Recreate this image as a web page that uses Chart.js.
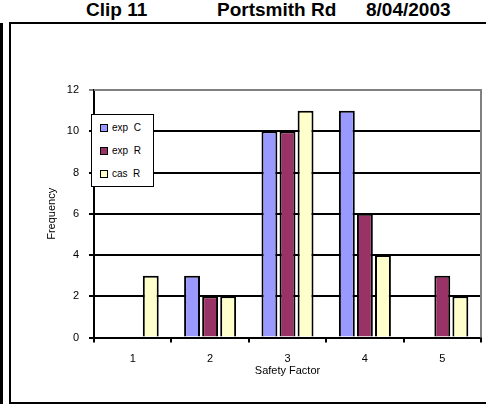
<!DOCTYPE html>
<html>
<head>
<meta charset="utf-8">
<script src="https://cdn.jsdelivr.net/npm/chart.js@4.4.0/dist/chart.umd.min.js"></script>
<style>
  body { margin: 0; background: #fff; }
  #wrap { position: relative; width: 486px; height: 406px; overflow: hidden; }
  .ttl { position: absolute; top: -1px; font: bold 19px "Liberation Sans", Arial, sans-serif; color: #000; }
  .ln { position: absolute; background: #000; }
  #legend { position: absolute; left: 91px; top: 114px; width: 61px; height: 71px; background: #fff;
    border: 1.5px solid #000; font: 10px "Liberation Sans", Arial, sans-serif; }
  #legend div { position: absolute; left: 8px; height: 10px; line-height: 10px; white-space: pre; }
  #legend span { display: inline-block; width: 6px; height: 6px; border: 1px solid #000; margin-right: 4px; vertical-align: -1px; }
  canvas { position: absolute; left: 0; top: 0; }
</style>
</head>
<body>
<div id="wrap">
  <div class="ttl" style="left:86px">Clip 11</div>
  <div class="ttl" style="left:217px">Portsmith Rd</div>
  <div class="ttl" style="left:366px">8/04/2003</div>
  <div class="ln" style="left:0;top:23px;width:3px;height:381px"></div>
  <div class="ln" style="left:9px;top:22px;width:2px;height:382px"></div>
  <div class="ln" style="left:9px;top:22px;width:477px;height:2px"></div>
  <div class="ln" style="left:9px;top:402px;width:477px;height:2px"></div>
  <canvas id="myChart" width="486" height="406"></canvas>
  <div id="legend"></div>
</div>
<script>
let categories = ['1', '2', '3', '4', '5'];
let expC = [0, 3, 10, 11, 0];
let expR = [0, 2, 10, 6, 3];
let casR = [3, 2, 11, 4, 2];
let seriesNames = ['exp  C', 'exp  R', 'cas  R'];
let seriesColors = ['#9999FF', '#993366', '#FFFFCC'];
let yTicks = [0, 2, 4, 6, 8, 10, 12];

let font = "'Liberation Sans', Arial, sans-serif";

// plot area border (gray top and right edge)
const frame = {
  id: 'frame',
  afterDraw(chart) {
    let a = chart.chartArea;
    let c = chart.ctx;
    c.save();
    c.strokeStyle = '#808080';
    c.lineWidth = 2;
    c.beginPath();
    c.moveTo(a.left, a.top);
    c.lineTo(a.right, a.top);
    c.lineTo(a.right, a.bottom);
    c.stroke();
    c.restore();
  }
};

let ctx = document.getElementById('myChart').getContext('2d');
const myChart = new Chart(ctx, {
  type: 'bar',
  data: {
    labels: categories,
    datasets: [expC, expR, casR].map((d, i) => ({
      label: seriesNames[i],
      data: d,
      backgroundColor: seriesColors[i],
      borderColor: '#000',
      borderWidth: 2,
      categoryPercentage: 0.7,
      barPercentage: 0.88
    }))
  },
  options: {
    responsive: false,
    animation: false,
    layout: { padding: { left: 45, right: 5, top: 90, bottom: 22 } },
    plugins: { legend: { display: false }, tooltip: { enabled: false } },
    scales: {
      x: {
        grid: { drawOnChartArea: false, drawTicks: true, tickLength: 5, color: '#000', lineWidth: 2 },
        border: { color: '#000', width: 2 },
        ticks: { color: '#000', font: { family: font, size: 11 }, padding: 10 },
        title: { display: true, text: 'Safety Factor', color: '#000', font: { family: font, size: 11 }, padding: { top: -11, bottom: 6 } }
      },
      y: {
        min: 0,
        max: 12,
        afterBuildTicks: s => { s.ticks = yTicks.map(v => ({ value: v })); },
        afterFit: s => { s.width = 49; },
        grid: {
          color: c => c.tick && c.tick.value == 12 ? '#808080' : '#000',
          lineWidth: 2,
          tickLength: 5
        },
        border: { color: '#000', width: 2 },
        ticks: { color: '#000', font: { family: font, size: 11 }, padding: 10 },
        title: { display: true, text: 'Frequency', color: '#000', font: { family: font, size: 11 }, padding: 0 }
      }
    }
  },
  plugins: [frame]
});

let legend = document.getElementById('legend');
seriesNames.forEach((n, i) => {
  let item = document.createElement('div');
  item.style.top = (8 + i * 23) + 'px';
  item.innerHTML = '<span style="background:' + seriesColors[i] + '"></span>' + n;
  legend.appendChild(item);
});
</script>
</body>
</html>
